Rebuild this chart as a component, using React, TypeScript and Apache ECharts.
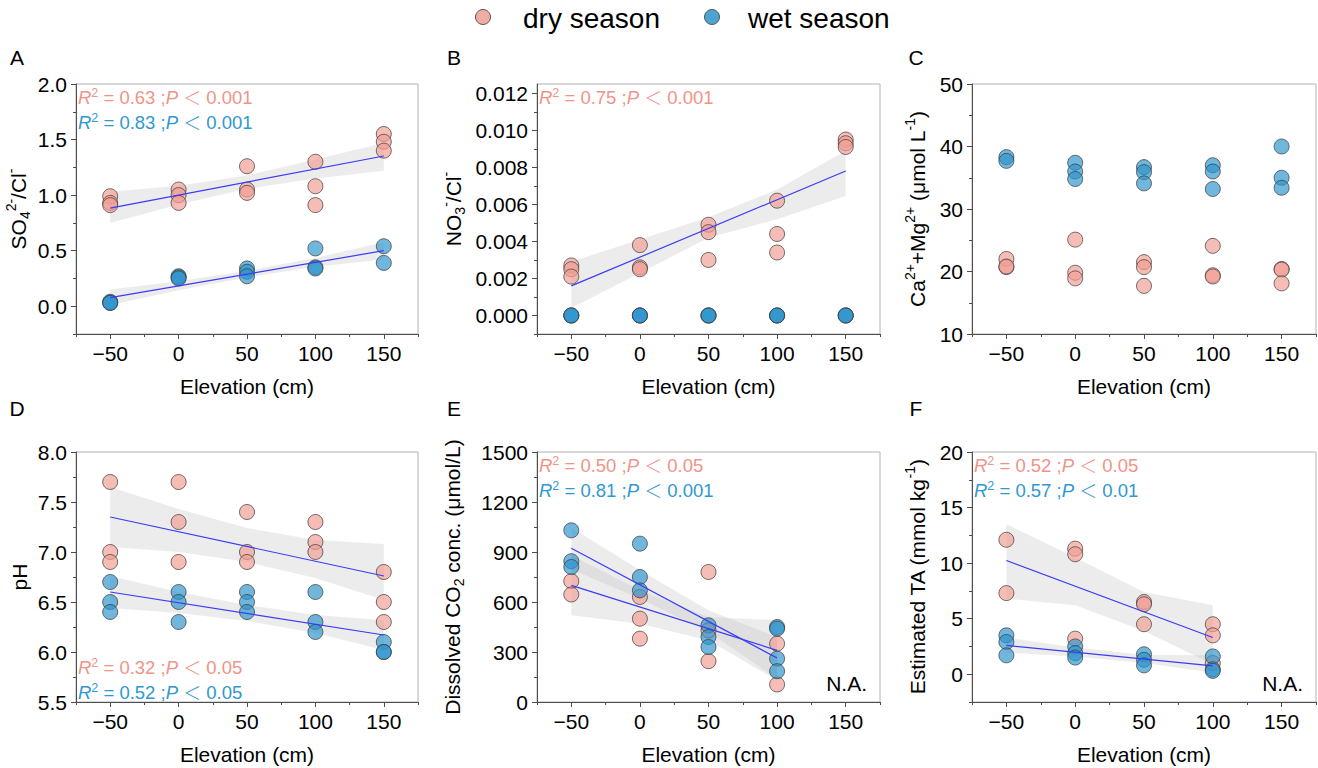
import React, { useEffect, useRef } from "react";
import * as echarts from "echarts";

const FONT = "'Liberation Sans', Arial, Helvetica, sans-serif";
const CJK_FONT = "'Noto Sans CJK SC', 'Noto Sans', sans-serif";
const DRY_FILL = "rgba(241, 157, 147, 0.85)";
const WET_FILL = "rgba(45, 148, 205, 0.85)";
const DRY_TEXT = "#ef9488";
const WET_TEXT = "#2f98cf";
const FIT_COLOR = "#3b3bf2";
const BAND_FILL = "rgba(195, 195, 195, 0.32)";
const AXIS_COLOR = "#4d4d4d";

// elevations (cm)
const elevations = [-50, 0, 50, 100, 150];
const elevationsShort = [-50, 0, 50, 100];
const xMajorTicks = [-50, 0, 50, 100, 150];
const xMinorTicks = [-75, -25, 25, 75, 125, 175];

// Panel A: SO4 2-/Cl-
const so4DryValues = [[0.99, 0.93, 0.91], [1.05, 1.0, 0.93], [1.26, 1.05, 1.02], [1.3, 1.08, 0.91], [1.55, 1.48, 1.4]];
const so4WetValues = [[0.04, 0.03, 0.03], [0.27, 0.26, 0.25], [0.34, 0.31, 0.27], [0.52, 0.35, 0.34], [0.54, 0.39]];
const so4DryFit = [0.883, 1.352];
const so4WetFit = [0.078, 0.5];
const so4DryBandLow = [0.75, 0.915, 1.057, 1.15, 1.22];
const so4DryBandHigh = [1.03, 1.085, 1.177, 1.32, 1.47];
const so4WetBandLow = [0.01, 0.144, 0.259, 0.355, 0.42];
const so4WetBandHigh = [0.15, 0.224, 0.319, 0.435, 0.575];
const so4YTicks = [0, 0.5, 1.0, 1.5, 2.0];
const so4YMinor = [-0.25, 0.25, 0.75, 1.25, 1.75];

// Panel B: NO3-/Cl-
const no3DryValues = [[0.0027, 0.0025, 0.0021], [0.0038, 0.0026, 0.0025], [0.0049, 0.0045, 0.003], [0.0062, 0.0044, 0.0034], [0.0095, 0.0093, 0.0091]];
const no3WetValues = [[0, 0, 0], [0, 0, 0], [0, 0, 0], [0, 0, 0], [0, 0, 0]];
const no3DryFit = [0.0016, 0.0078];
const no3DryBandLow = [0.0004, 0.0023, 0.0042, 0.0052, 0.00645];
const no3DryBandHigh = [0.0029, 0.0041, 0.0053, 0.0068, 0.0089];
const no3YTicks = [0, 0.002, 0.004, 0.006, 0.008, 0.01, 0.012];
const no3YMinor = [-0.001, 0.001, 0.003, 0.005, 0.007, 0.009, 0.011];

// Panel C: Ca2+ + Mg2+
const caDryValues = [[22.0, 20.7, 20.8], [25.1, 19.8, 18.9], [21.5, 20.7, 17.7], [24.1, 19.4, 19.2], [20.4, 20.3, 18.1]];
const caWetValues = [[38.3, 37.7], [37.4, 36.0, 34.8], [36.7, 35.9, 34.1], [37.0, 36.0, 33.2], [40.0, 35.0, 33.4]];
const caYTicks = [10, 20, 30, 40, 50];
const caYMinor = [15, 25, 35, 45];

// Panel D: pH
const phDryValues = [[7.7, 7.0, 6.9], [7.7, 7.3, 6.9], [7.4, 7.0, 6.9], [7.3, 7.1, 7.0], [6.8, 6.5, 6.3]];
const phWetValues = [[6.7, 6.5, 6.4], [6.6, 6.5, 6.3], [6.6, 6.5, 6.4], [6.6, 6.3, 6.2], [6.1, 6.0, 6.0]];
const phDryFit = [7.35, 6.76];
const phWetFit = [6.6, 6.17];
const phDryBandLow = [7.05, 7.0, 6.9, 6.74, 6.52];
const phDryBandHigh = [7.65, 7.43, 7.24, 7.12, 7.08];
const phWetBandLow = [6.44, 6.39, 6.31, 6.19, 6.02];
const phWetBandHigh = [6.76, 6.6, 6.47, 6.37, 6.32];
const phYTicks = [5.5, 6.0, 6.5, 7.0, 7.5, 8.0];
const phYMinor = [5.75, 6.25, 6.75, 7.25, 7.75];

// Panel E: dissolved CO2
const co2DryValues = [[725, 645], [630, 500, 380], [780, 430, 245], [350, 105]];
const co2WetValues = [[1030, 845, 810], [950, 750, 670], [460, 390, 330], [450, 440, 260, 185]];
const co2DryFit = [700, 310];
const co2WetFit = [922, 264];
const co2DryBandLow = [520, 470, 370, 130];
const co2DryBandHigh = [880, 670, 510, 490];
const co2WetBandLow = [797, 620, 420, 140];
const co2WetBandHigh = [1047, 790, 550, 390];
const co2YTicks = [0, 300, 600, 900, 1200, 1500];
const co2YMinor = [150, 450, 750, 1050, 1350];

// Panel F: estimated TA
const taDryValues = [[12.1, 7.3], [11.3, 10.8, 3.2], [6.5, 6.3, 4.5], [4.5, 3.5, 1.0]];
const taWetValues = [[3.5, 2.9, 1.7], [2.5, 1.9, 1.5], [1.8, 1.3, 0.8], [1.6, 0.45, 0.3]];
const taDryFit = [10.23, 3.31];
const taWetFit = [2.59, 0.75];
const taDryBandLow = [6.8, 6.2, 3.9, 0.9];
const taDryBandHigh = [13.5, 10.5, 7.4, 6.2];
const taWetBandLow = [1.95, 1.6, 1.0, 0.15];
const taWetBandHigh = [3.3, 2.4, 1.75, 1.7];
const taYTicks = [0, 5, 10, 15, 20];
const taYMinor = [-2.5, 2.5, 7.5, 12.5, 17.5];

const panelLetters = ["A", "B", "C", "D", "E", "F"];

type Band = { low: number[]; high: number[] };
type Panel = {
  left: number;
  top: number;
  width: number;
  yMin: number;
  yMax: number;
  yTicks: number[];
  yMinor: number[];
  decimals: number;
  yName: string;
  nameGap: number;
  xs: number[];
  dry: number[][];
  wet: number[][];
  fitX?: number[];
  dryFit?: number[];
  wetFit?: number[];
  dryBand?: Band;
  wetBand?: Band;
};

const panels: Panel[] = [
  {
    left: 76, top: 84, width: 342, yMin: -0.25, yMax: 2.0, yTicks: so4YTicks, yMinor: so4YMinor, decimals: 1,
    yName: "SO{sub|4}{sup|2-}/Cl{sup|-}", nameGap: 44, xs: elevations, dry: so4DryValues, wet: so4WetValues,
    fitX: [-50, 150], dryFit: so4DryFit, wetFit: so4WetFit,
    dryBand: { low: so4DryBandLow, high: so4DryBandHigh }, wetBand: { low: so4WetBandLow, high: so4WetBandHigh },
  },
  {
    left: 537, top: 84, width: 343, yMin: -0.001, yMax: 0.0125, yTicks: no3YTicks, yMinor: no3YMinor, decimals: 3,
    yName: "NO{sub|3}{sup|-}/Cl{sup|-}", nameGap: 70, xs: elevations, dry: no3DryValues, wet: no3WetValues,
    fitX: [-50, 150], dryFit: no3DryFit, dryBand: { low: no3DryBandLow, high: no3DryBandHigh },
  },
  {
    left: 972, top: 84, width: 344, yMin: 10, yMax: 50, yTicks: caYTicks, yMinor: caYMinor, decimals: 0,
    yName: "Ca{sup|2+}+Mg{sup|2+} (μmol L{sup|-1})", nameGap: 41, xs: elevations, dry: caDryValues, wet: caWetValues,
  },
  {
    left: 76, top: 452, width: 342, yMin: 5.5, yMax: 8.0, yTicks: phYTicks, yMinor: phYMinor, decimals: 1,
    yName: "pH", nameGap: 43, xs: elevations, dry: phDryValues, wet: phWetValues,
    fitX: [-50, 150], dryFit: phDryFit, wetFit: phWetFit,
    dryBand: { low: phDryBandLow, high: phDryBandHigh }, wetBand: { low: phWetBandLow, high: phWetBandHigh },
  },
  {
    left: 537, top: 452, width: 343, yMin: 0, yMax: 1500, yTicks: co2YTicks, yMinor: co2YMinor, decimals: 0,
    yName: "Dissolved CO{sub|2} conc. (μmol/L)", nameGap: 71, xs: elevationsShort, dry: co2DryValues, wet: co2WetValues,
    fitX: [-50, 100], dryFit: co2DryFit, wetFit: co2WetFit,
    dryBand: { low: co2DryBandLow, high: co2DryBandHigh }, wetBand: { low: co2WetBandLow, high: co2WetBandHigh },
  },
  {
    left: 972, top: 452, width: 344, yMin: -2.5, yMax: 20, yTicks: taYTicks, yMinor: taYMinor, decimals: 0,
    yName: "Estimated TA (mmol kg{sup|-1})", nameGap: 41, xs: elevationsShort, dry: taDryValues, wet: taWetValues,
    fitX: [-50, 100], dryFit: taDryFit, wetFit: taWetFit,
    dryBand: { low: taDryBandLow, high: taDryBandHigh }, wetBand: { low: taWetBandLow, high: taWetBandHigh },
  },
];

const statLines = [
  { panel: 0, row: 0, color: DRY_TEXT, r2: "0.63", p: "0.001" },
  { panel: 0, row: 1, color: WET_TEXT, r2: "0.83", p: "0.001" },
  { panel: 1, row: 0, color: DRY_TEXT, r2: "0.75", p: "0.001" },
  { panel: 3, row: 2, color: DRY_TEXT, r2: "0.32", p: "0.05" },
  { panel: 3, row: 3, color: WET_TEXT, r2: "0.52", p: "0.05" },
  { panel: 4, row: 0, color: DRY_TEXT, r2: "0.50", p: "0.05" },
  { panel: 4, row: 1, color: WET_TEXT, r2: "0.81", p: "0.001" },
  { panel: 5, row: 0, color: DRY_TEXT, r2: "0.52", p: "0.05" },
  { panel: 5, row: 1, color: WET_TEXT, r2: "0.57", p: "0.01" },
];

const PLOT_H = 250;

function toPoints(xs: number[], values: number[][]) {
  const out: number[][] = [];
  xs.forEach((x, k) => (values[k] || []).forEach((v) => out.push([x, v])));
  return out;
}

function bandSeries(i: number, xs: number[], band: Band) {
  return {
    type: "custom",
    xAxisIndex: 2 * i,
    yAxisIndex: 2 * i,
    silent: true,
    z: 1,
    clip: false,
    data: [[xs[0], band.high[0]]],
    renderItem: (_params: any, api: any) => {
      const pts: number[][] = [];
      xs.forEach((x, k) => pts.push(api.coord([x, band.high[k]])));
      for (let k = xs.length - 1; k >= 0; k--) pts.push(api.coord([xs[k], band.low[k]]));
      return { type: "polygon", shape: { points: pts }, style: { fill: BAND_FILL, stroke: "none" } };
    },
  };
}

function buildOption() {
  const grid: any[] = [];
  const xAxis: any[] = [];
  const yAxis: any[] = [];
  const series: any[] = [];
  const graphic: any[] = [];

  panels.forEach((p, i) => {
    grid.push({
      left: p.left, top: p.top, width: p.width, height: PLOT_H,
      show: true, borderColor: "#b3b3b3", borderWidth: 1, backgroundColor: "transparent",
    });
    xAxis.push({
      gridIndex: i, type: "value", position: "bottom", min: -75, max: 175,
      axisLine: { show: true, onZero: false, lineStyle: { color: AXIS_COLOR, width: 1 } },
      axisTick: { show: true, length: 5, customValues: xMajorTicks, lineStyle: { color: AXIS_COLOR } },
      axisLabel: {
        customValues: xMajorTicks, fontSize: 21, color: "#000", fontFamily: FONT, margin: 9,
        formatter: (v: number) => String(v).replace("-", "\u2212"),
      },
      splitLine: { show: false },
      name: "Elevation (cm)", nameLocation: "middle", nameGap: 42,
      nameTextStyle: { fontSize: 21, color: "#000", fontFamily: FONT },
    });
    xAxis.push({
      gridIndex: i, type: "value", position: "bottom", min: -75, max: 175,
      axisLine: { show: false, onZero: false },
      axisTick: { show: true, length: 3, customValues: xMinorTicks, lineStyle: { color: AXIS_COLOR } },
      axisLabel: { show: false },
      splitLine: { show: false },
    });
    yAxis.push({
      gridIndex: i, type: "value", position: "left", min: p.yMin, max: p.yMax,
      axisLine: { show: true, onZero: false, lineStyle: { color: AXIS_COLOR, width: 1 } },
      axisTick: { show: true, length: 5, customValues: p.yTicks, lineStyle: { color: AXIS_COLOR } },
      axisLabel: {
        customValues: p.yTicks, fontSize: 21, color: "#000", fontFamily: FONT, margin: 9,
        formatter: (v: number) => Number(v).toFixed(p.decimals),
      },
      splitLine: { show: false },
      name: p.yName, nameLocation: "middle", nameGap: p.nameGap, nameRotate: 90,
      nameTextStyle: {
        fontSize: 21, color: "#000", fontFamily: FONT, lineHeight: 28,
        rich: {
          sup: { fontSize: 14, lineHeight: 14, verticalAlign: "top", fontFamily: FONT, color: "#000" },
          sub: { fontSize: 14, lineHeight: 14, verticalAlign: "bottom", fontFamily: FONT, color: "#000" },
        },
      },
    });
    yAxis.push({
      gridIndex: i, type: "value", position: "left", min: p.yMin, max: p.yMax,
      axisLine: { show: false, onZero: false },
      axisTick: { show: true, length: 3, customValues: p.yMinor, lineStyle: { color: AXIS_COLOR } },
      axisLabel: { show: false },
      splitLine: { show: false },
    });

    if (p.dryBand) series.push(bandSeries(i, p.xs, p.dryBand));
    if (p.wetBand) series.push(bandSeries(i, p.xs, p.wetBand));

    series.push({
      name: "dry season", type: "scatter", xAxisIndex: 2 * i, yAxisIndex: 2 * i, z: 3,
      symbol: "circle", symbolSize: 15, data: toPoints(p.xs, p.dry),
      itemStyle: { color: DRY_FILL, borderColor: "#3a3a3a", borderWidth: 0.9 },
    });
    series.push({
      name: "wet season", type: "scatter", xAxisIndex: 2 * i, yAxisIndex: 2 * i, z: 3,
      symbol: "circle", symbolSize: 15, data: toPoints(p.xs, p.wet),
      itemStyle: { color: WET_FILL, borderColor: "#3a3a3a", borderWidth: 0.9 },
    });
    if (p.fitX && p.dryFit) {
      series.push({
        type: "line", xAxisIndex: 2 * i, yAxisIndex: 2 * i, z: 4, symbol: "none", silent: true,
        data: [[p.fitX[0], p.dryFit[0]], [p.fitX[1], p.dryFit[1]]],
        lineStyle: { color: FIT_COLOR, width: 1.2 },
      });
    }
    if (p.fitX && p.wetFit) {
      series.push({
        type: "line", xAxisIndex: 2 * i, yAxisIndex: 2 * i, z: 4, symbol: "none", silent: true,
        data: [[p.fitX[0], p.wetFit[0]], [p.fitX[1], p.wetFit[1]]],
        lineStyle: { color: FIT_COLOR, width: 1.2 },
      });
    }

    // panel letter
    const letterX = [17, 454, 916][i % 3];
    const letterY = i < 3 ? 57 : 408;
    graphic.push({
      type: "text", x: letterX, y: letterY,
      style: {
        text: panelLetters[i], fill: "#000", fontSize: 21, fontFamily: FONT,
        align: "center", verticalAlign: "middle", textAlign: "center", textVerticalAlign: "middle",
      },
    });
  });

  // statistics annotations
  statLines.forEach((s) => {
    const p = panels[s.panel];
    const x = p.left + 2;
    const rowY = [13, 38, 215, 240][s.row];
    const y = p.top + rowY;
    graphic.push({
      type: "text", x, y, z: 10,
      style: {
        text: `{i|R}{s|2} = ${s.r2} ;{i|P} {lt|\uFF1C} ${s.p}`,
        fill: s.color, fontSize: 18.5, fontFamily: FONT, lineHeight: 22,
        align: "left", verticalAlign: "middle", textAlign: "left", textVerticalAlign: "middle",
        rich: {
          i: { fontStyle: "italic", fill: s.color, fontSize: 18.5, fontFamily: FONT },
          s: { fontSize: 12.5, lineHeight: 12, verticalAlign: "top", fill: s.color, fontFamily: FONT },
          lt: { fontSize: 18, fill: s.color, fontFamily: CJK_FONT, fontWeight: 300 },
        },
      },
    });
  });

  // N.A. labels
  [4, 5].forEach((pi) => {
    const p = panels[pi];
    graphic.push({
      type: "text", x: p.left + p.width - 13, y: p.top + 231,
      style: {
        text: "N.A.", fill: "#000", fontSize: 21, fontFamily: FONT,
        align: "right", verticalAlign: "middle", textAlign: "right", textVerticalAlign: "middle",
      },
    });
  });

  // legend
  const legendItems = [
    { cx: 483, tx: 523, color: DRY_FILL, label: "dry season" },
    { cx: 712, tx: 748, color: WET_FILL, label: "wet season" },
  ];
  legendItems.forEach((it) => {
    graphic.push({
      type: "circle", shape: { cx: it.cx, cy: 17, r: 7.5 },
      style: { fill: it.color, stroke: "#555", lineWidth: 1 },
    });
    graphic.push({
      type: "text", x: it.tx, y: 18,
      style: {
        text: it.label, fill: "#000", fontSize: 28, fontFamily: FONT,
        align: "left", verticalAlign: "middle", textAlign: "left", textVerticalAlign: "middle",
      },
    });
  });

  return {
    animation: false,
    backgroundColor: "#fff",
    textStyle: { fontFamily: FONT },
    grid, xAxis, yAxis, series, graphic,
  };
}

export default function App() {
  const ref = useRef<HTMLDivElement>(null);
  useEffect(() => {
    if (!ref.current) return;
    const chart = echarts.init(ref.current, null, { renderer: "svg" });
    chart.setOption(buildOption() as any);
    return () => chart.dispose();
  }, []);
  return (
    <div
      ref={ref}
      style={{ position: "absolute", left: 0, top: 0, width: 1318, height: 768, background: "#fff" }}
    />
  );
}
